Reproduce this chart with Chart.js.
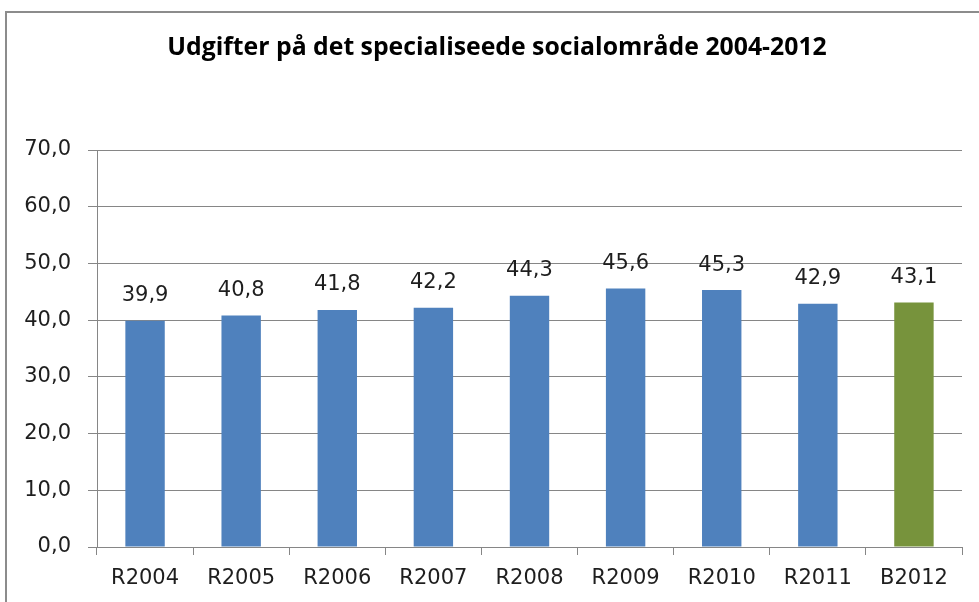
<!DOCTYPE html>
<html><head><meta charset="utf-8">
<script src="https://cdn.jsdelivr.net/npm/chart.js@4/dist/chart.umd.min.js"></script>
<style>
html,body{margin:0;padding:0;background:#fff;overflow:hidden}
#frame{position:absolute;left:5px;top:11px;width:1000px;height:700px;border-left:2px solid #8c8c8c;border-top:2px solid #8c8c8c}
#wrap{position:absolute;left:0;top:0;width:979px;height:602px}
</style></head>
<body>
<div id="frame"></div>
<div id="wrap"><canvas id="c" width="979" height="602"></canvas></div>
<script>
const chartTitle = "Udgifter på det specialiseede socialområde 2004-2012";
const categories = ["R2004","R2005","R2006","R2007","R2008","R2009","R2010","R2011","B2012"];
const values = [39.9, 40.8, 41.8, 42.2, 44.3, 45.6, 45.3, 42.9, 43.1];
const barColors = ["#4F81BD","#4F81BD","#4F81BD","#4F81BD","#4F81BD","#4F81BD","#4F81BD","#4F81BD","#77933C"];
const yTicks = [0,10,20,30,40,50,60,70];

const fmt = v => v.toFixed(1).replace('.', ',');
const FONT = "'DejaVu Sans', Verdana, sans-serif";
const TXT = "#1e1e1e";

const titlePlugin = {
  id: 'customTitle',
  afterDraw(chart) {
    const ctx = chart.ctx;
    ctx.save();
    ctx.font = "bold 24.8px 'Open Sans', sans-serif";
    ctx.fillStyle = "#000";
    ctx.textAlign = "center";
    ctx.textBaseline = "middle";
    ctx.fillText(chartTitle, 497, 48);
    ctx.restore();
  }
};
const labelPlugin = {
  id: 'valueLabels',
  afterDatasetsDraw(chart) {
    const ctx = chart.ctx;
    const meta = chart.getDatasetMeta(0);
    ctx.save();
    ctx.font = "21px " + FONT;
    ctx.fillStyle = TXT;
    ctx.textAlign = "center";
    ctx.textBaseline = "middle";
    meta.data.forEach((el, i) => {
      ctx.fillText(fmt(values[i]), el.x, el.y - 25);
    });
    ctx.restore();
  }
};

new Chart(document.getElementById('c'), {
  type: 'bar',
  data: {
    labels: categories,
    datasets: [{
      data: values,
      backgroundColor: barColors,
      borderWidth: 0,
      barPercentage: 0.41,
      categoryPercentage: 1.0
    }]
  },
  options: {
    responsive: false,
    animation: false,
    layout: { padding: { top: 150, right: 17, bottom: 0, left: 0 } },
    plugins: { legend: { display: false }, title: { display: false }, tooltip: { enabled: false } },
    scales: {
      x: {
        offset: true,
        grid: { offset: true, drawOnChartArea: false, drawTicks: true, tickLength: 8, color: "#868686", lineWidth: 1 },
        border: { display: true, color: "#868686", width: 1 },
        ticks: { font: { family: FONT, size: 21 }, color: TXT, padding: 11, maxRotation: 0, autoSkip: false },
        afterFit(s) { s.height = 55; }
      },
      y: {
        min: 0, max: 70,
        afterBuildTicks(s) { s.ticks = yTicks.map(v => ({ value: v })); },
        grid: { color: "#868686", lineWidth: 1, drawTicks: true, tickLength: 9 },
        border: { display: true, color: "#868686", width: 1 },
        ticks: { font: { family: FONT, size: 21 }, color: TXT, padding: 17, callback: v => fmt(v) },
        afterFit(s) { s.width = 97; }
      }
    }
  },
  plugins: [titlePlugin, labelPlugin]
});
</script>
</body></html>
